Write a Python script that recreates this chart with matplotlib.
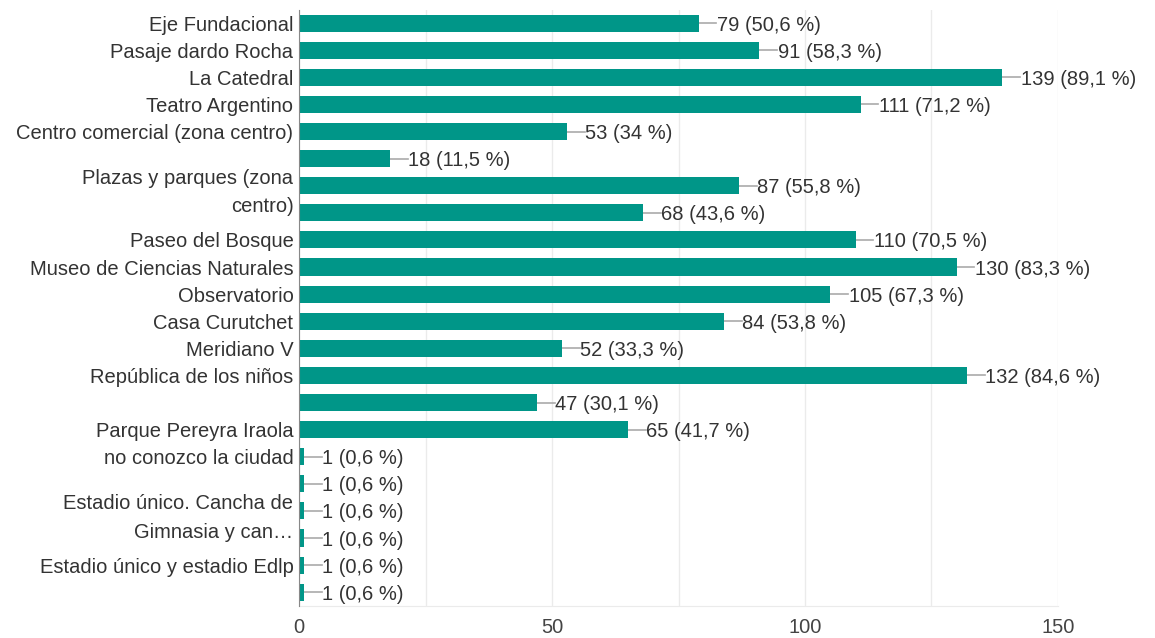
import numpy as np
import matplotlib
matplotlib.use('Agg')
import matplotlib.pyplot as plt

plt.rcParams['font.family'] = ['Liberation Sans', 'DejaVu Sans']

# row labels (blank where the chart shows none)
labels = ['Eje Fundacional', 'Pasaje dardo Rocha', 'La Catedral', 'Teatro Argentino',
          'Centro comercial (zona centro)', '', 'Plazas y parques (zona\ncentro)', '',
          'Paseo del Bosque', 'Museo de Ciencias Naturales', 'Observatorio', 'Casa Curutchet',
          'Meridiano V', 'República de los niños', '', 'Parque Pereyra Iraola',
          'no conozco la ciudad', '', 'Estadio único. Cancha de\nGimnasia y can…', '',
          'Estadio único y estadio Edlp', '']
counts = [79, 91, 139, 111, 53, 18, 87, 68, 110, 130, 105, 84, 52, 132, 47, 65, 1, 1, 1, 1, 1, 1]
pcts = ['50,6', '58,3', '89,1', '71,2', '34', '11,5', '55,8', '43,6', '70,5', '83,3', '67,3',
        '53,8', '33,3', '84,6', '30,1', '41,7', '0,6', '0,6', '0,6', '0,6', '0,6', '0,6']
xticks = [0, 50, 100, 150]

teal = '#009688'
txt = '#333333'
fs = 14.5

fig = plt.figure(figsize=(11.55, 6.38), dpi=100)
ax = fig.add_axes([0.2589, 0.0505, 0.9160 - 0.2589, 0.9345])

y = np.arange(len(counts))
ax.barh(y, counts, height=0.63, color=teal, zorder=3)

for i in range(len(counts)):
    ax.plot([counts[i], counts[i] + 3.5], [i, i], color='#aaaaaa', lw=1.2, zorder=2, clip_on=False)
    ax.text(counts[i] + 3.6, i, '%d (%s %%)' % (counts[i], pcts[i]), va='center_baseline', ha='left',
            fontsize=fs, color=txt, clip_on=False)

ax.set_xlim(0, 150)
ax.set_ylim(len(counts) - 0.5, -0.5)
ax.set_yticks(y)
ax.set_yticklabels(labels, fontsize=fs, color=txt, linespacing=1.65)
grid = np.arange(0, 151, 25)
ax.set_xticks(grid)
ax.set_xticklabels([str(v) if v in xticks else '' for v in grid], fontsize=fs, color='#444444')
ax.tick_params(axis='y', length=0, pad=4)
ax.tick_params(axis='x', length=0, pad=9)
ax.grid(axis='x', color='#ebebeb', lw=1, zorder=0)
for s in ['top', 'right']:
    ax.spines[s].set_visible(False)
ax.spines['bottom'].set_color('#ebebeb')
ax.spines['left'].set_color('#888888')
ax.spines['left'].set_zorder(4)

plt.savefig('out.png', dpi=100)
